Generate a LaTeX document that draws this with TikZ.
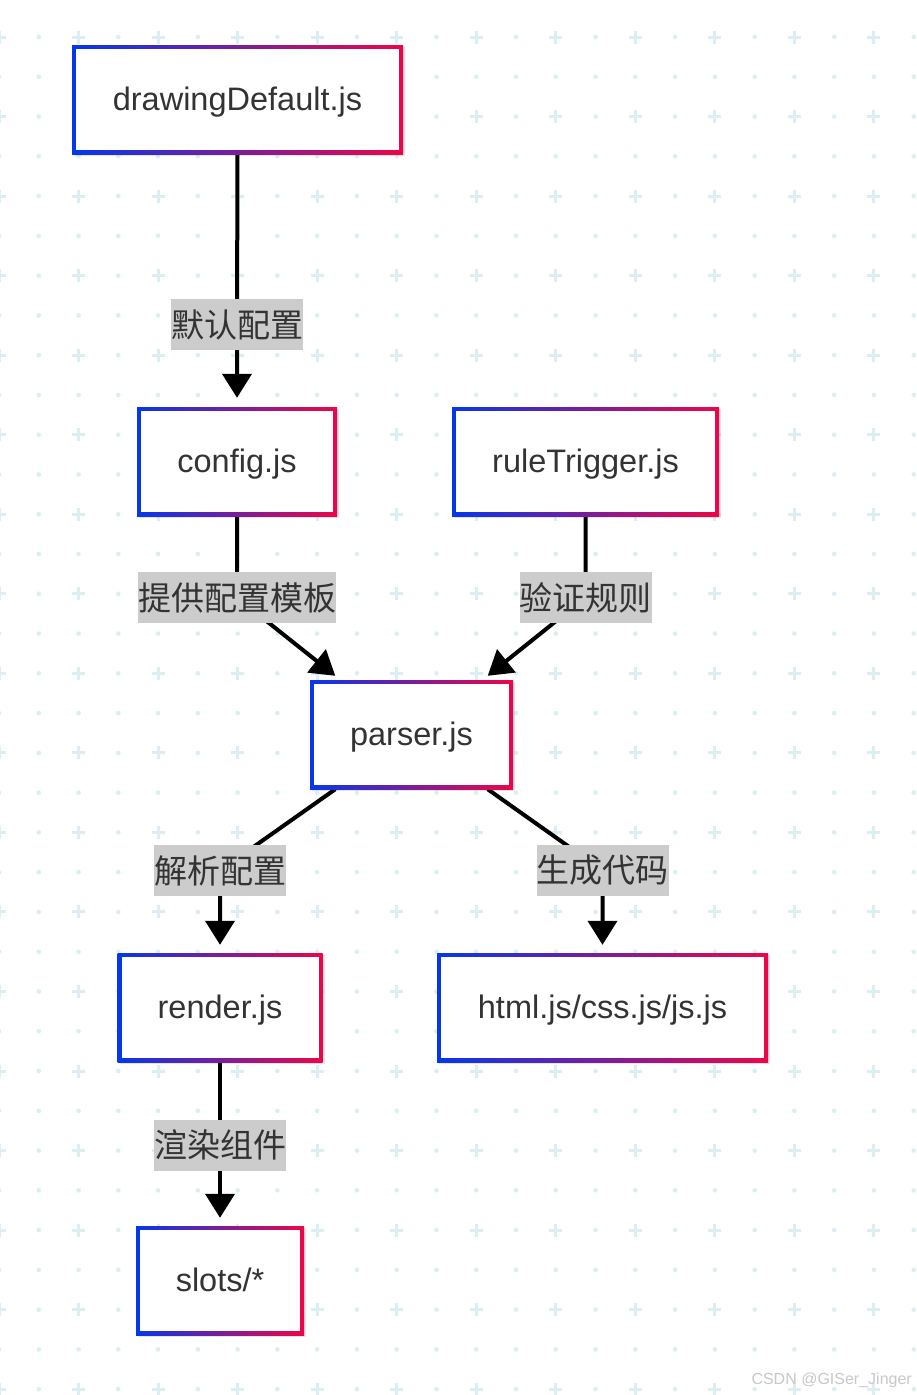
\documentclass[tikz,border=0pt]{standalone}
\usepackage{fontspec}
\setmainfont{Liberation Sans}
\newfontfamily\cjk{Noto Sans CJK SC}
\usetikzlibrary{arrows.meta,shadows}
\definecolor{gblue}{RGB}{5,55,235}
\definecolor{gred}{RGB}{238,5,72}
\definecolor{txt}{RGB}{51,51,51}
\definecolor{labgray}{RGB}{204,204,204}
\definecolor{gridc}{RGB}{218,238,243}
\definecolor{wm}{RGB}{200,200,200}
\pgfdeclarelayer{bg}
\pgfdeclarelayer{edges}
\pgfsetlayers{bg,edges,main}
\tikzset{
  box/.style={shade, left color=gblue, right color=gred, minimum height=109pt,
    inner sep=0pt, text=txt, font=\fontsize{32.5}{39}\selectfont,
    text height=29.4pt, text depth=6.9pt,
    drop shadow={shadow xshift=2pt, shadow yshift=-2pt, opacity=0.10, fill=black},
    path picture={\fill[white] ([shift={(4pt,4pt)}]path picture bounding box.south west)
      rectangle ([shift={(-4pt,-4pt)}]path picture bounding box.north east);}},
  lab/.style={fill=labgray, inner xsep=0pt, inner ysep=0pt, minimum height=51pt,
    text=txt, font=\cjk\fontsize{33}{40}\selectfont},
  edge/.style={line width=4pt, black, -{Triangle[length=24pt,width=29pt]}},
}
\begin{document}
\begin{tikzpicture}[x=1pt,y=-1pt]
\useasboundingbox (0,0) rectangle (917,1395);
\begin{pgfonlayer}{bg}
  \fill[white] (0,0) rectangle (917,1395);
  \foreach \i in {0,2,...,34} \foreach \j in {0,2,...,22}
    \draw[gridc, line width=3pt] ({-1+39.77*\j-6.5},{37+39.77*\i}) -- ({-1+39.77*\j+6.5},{37+39.77*\i})
      ({-1+39.77*\j},{37+39.77*\i-6.5}) -- ({-1+39.77*\j},{37+39.77*\i+6.5});
  \foreach \i in {0,...,34} \foreach \j in {1,3,...,23}
    \fill[gridc] ({-1+39.77*\j},{37+39.77*\i}) circle (2.3pt);
  \foreach \i in {1,3,...,33} \foreach \j in {0,2,...,22}
    \fill[gridc] ({-1+39.77*\j},{37+39.77*\i}) circle (2.3pt);
\end{pgfonlayer}

\node[box, minimum width=331pt] (dd) at (237.5,99.5) {drawingDefault.js};
\node[box, minimum width=200pt] (cf) at (237,461.5) {config.js};
\node[box, minimum width=267pt] (rt) at (585.5,461.5) {ruleTrigger.js};
\node[box, minimum width=203pt] (ps) at (411.5,734.5) {parser.js};
\node[box, minimum width=205pt] (rn) at (220,1007.5) {render.js};
\node[box, minimum width=331pt] (ht) at (602.5,1007.5) {html.js/css.js/js.js};
\node[box, minimum width=168pt] (sl) at (220,1280.5) {slots/*};

\node[lab] (l1) at (237,324.5) {默认配置};
\node[lab] (l2) at (237,597.5) {提供配置模板};
\node[lab] (l3) at (585.5,597.5) {验证规则};
\node[lab] (l4) at (220,870.5) {解析配置};
\node[lab] (l5) at (602.5,870.5) {生成代码};
\node[lab] (l6) at (220,1145) {渲染组件};

\coordinate (p1) at ([xshift=25.5pt,yshift=4pt]ps.north west);
\coordinate (p2) at ([xshift=-25.5pt,yshift=4pt]ps.north east);
\coordinate (p3) at ([xshift=25.5pt]ps.south west);
\coordinate (p4) at ([xshift=-25.5pt]ps.south east);

\begin{pgfonlayer}{edges}
  \draw[edge, shorten >=9pt] (dd.south) -- (l1.center) -- (cf.north);
  \draw[edge] (cf.south) -- (l2.center) -- (p1);
  \draw[edge] (rt.south) -- (l3.center) -- (p2);
  \draw[edge, shorten >=8pt] (p3) -- (l4.center) -- (l4.center |- rn.north);
  \draw[edge, shorten >=8pt] (p4) -- (l5.center) -- (l5.center |- ht.north);
  \draw[edge, shorten >=8pt] (rn.south) -- (l6.center) -- (sl.north);
\end{pgfonlayer}

\node[anchor=east, text=wm, font=\fontsize{16}{19}\selectfont, inner sep=0pt] (wmk) at (912,1380) {CSDN @GISer\_Jinger};
\end{tikzpicture}
\end{document}
